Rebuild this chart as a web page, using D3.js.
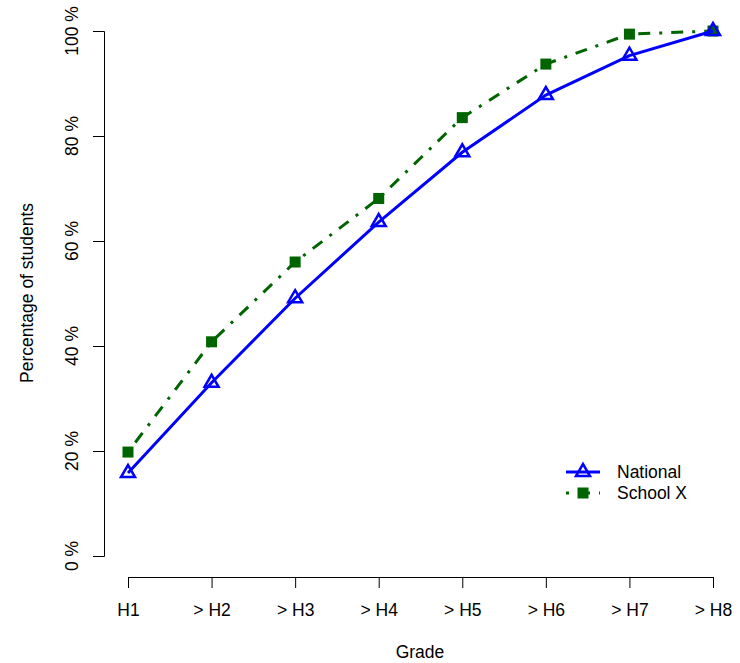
<!DOCTYPE html>
<html>
<head>
<meta charset="utf-8">
<script src="https://cdn.jsdelivr.net/npm/d3@7/dist/d3.min.js"></script>
<style>
body { margin: 0; background: #fff; }
text { font-family: "Liberation Sans", Arial, sans-serif; fill: #000; }
</style>
</head>
<body>
<svg id="chart" width="740" height="663"></svg>
<script>
const grades = ["H1", "> H2", "> H3", "> H4", "> H5", "> H6", "> H7", "> H8"];
const national = [15.8, 33.0, 49.1, 63.6, 76.9, 87.8, 95.3, 100];
const schoolX = [19.8, 40.8, 56.0, 68.1, 83.5, 93.7, 99.4, 100];
const yTicks = [0, 20, 40, 60, 80, 100];
const seriesNames = ["National", "School X"];

const svg = d3.select("#chart");
const x = d3.scaleLinear().domain([1, 8]).range([128, 713]);
const y = d3.scaleLinear().domain([0, 100]).range([556, 31]);
const fs = 17.5;

// Y axis
const yAxis = svg.append("g").attr("transform", "translate(104,0)")
  .call(d3.axisLeft(y).tickValues(yTicks).tickSize(11).tickFormat(d => d + " %"));
yAxis.select(".domain").attr("stroke", "#000").attr("stroke-width", 1);
yAxis.selectAll(".tick line").attr("stroke", "#000");
yAxis.selectAll(".tick text").remove();
yTicks.forEach(t => {
  svg.append("text")
    .attr("transform", `translate(78,${y(t)}) rotate(-90)`)
    .attr("text-anchor", "middle")
    .attr("font-size", fs)
    .text(t + " %");
});

// X axis
const xAxis = svg.append("g").attr("transform", "translate(0,577)")
  .call(d3.axisBottom(x).tickValues(d3.range(1, 9)).tickSize(11).tickFormat((d, i) => grades[i]));
xAxis.select(".domain").attr("stroke", "#000").attr("stroke-width", 1);
xAxis.selectAll(".tick line").attr("stroke", "#000");
xAxis.selectAll(".tick text").attr("font-size", fs).attr("y", 0).attr("dy", 0)
  .attr("transform", "translate(0,39)").attr("font-family", "Liberation Sans, Arial, sans-serif").attr("fill", "#000");

// Axis titles
svg.append("text").attr("x", 420).attr("y", 658).attr("text-anchor", "middle").attr("font-size", fs).text("Grade");
svg.append("text").attr("transform", "translate(33,293) rotate(-90)").attr("text-anchor", "middle").attr("font-size", fs).text("Percentage of students");

const line = d3.line().x((d, i) => x(i + 1)).y(d => y(d));

// School X (dash-dot, dark green)
svg.append("path").datum(schoolX).attr("d", line)
  .attr("fill", "none").attr("stroke", "#006400").attr("stroke-width", 3)
  .attr("stroke-dasharray", "3,9,12,9");
svg.selectAll(".sq").data(schoolX).enter().append("rect")
  .attr("x", (d, i) => x(i + 1) - 5.5).attr("y", d => y(d) - 5.5)
  .attr("width", 11).attr("height", 11).attr("fill", "#006400");

// National (solid blue)
svg.append("path").datum(national).attr("d", line)
  .attr("fill", "none").attr("stroke", "#0000FF").attr("stroke-width", 3);
const tri = (cx, cy) => `M${cx - 7},${cy + 4} L${cx + 7},${cy + 4} L${cx},${cy - 8} Z`;
svg.selectAll(".tri").data(national).enter().append("path")
  .attr("d", (d, i) => tri(x(i + 1), y(d)))
  .attr("fill", "none").attr("stroke", "#0000FF").attr("stroke-width", 2.5).attr("stroke-linejoin", "miter");

// Legend
const lg = svg.append("g");
lg.append("line").attr("x1", 566).attr("x2", 600).attr("y1", 472).attr("y2", 472)
  .attr("stroke", "#0000FF").attr("stroke-width", 3);
lg.append("path").attr("d", tri(583, 472)).attr("fill", "none").attr("stroke", "#0000FF").attr("stroke-width", 2.5);
lg.append("line").attr("x1", 566).attr("x2", 600).attr("y1", 493).attr("y2", 493)
  .attr("stroke", "#006400").attr("stroke-width", 3).attr("stroke-dasharray", "3,9,12,9");
lg.append("rect").attr("x", 577.5).attr("y", 487.5).attr("width", 11).attr("height", 11).attr("fill", "#006400");
lg.append("text").attr("x", 617).attr("y", 478).attr("font-size", fs).text(seriesNames[0]);
lg.append("text").attr("x", 617).attr("y", 499).attr("font-size", fs).text(seriesNames[1]);
</script>
</body>
</html>
